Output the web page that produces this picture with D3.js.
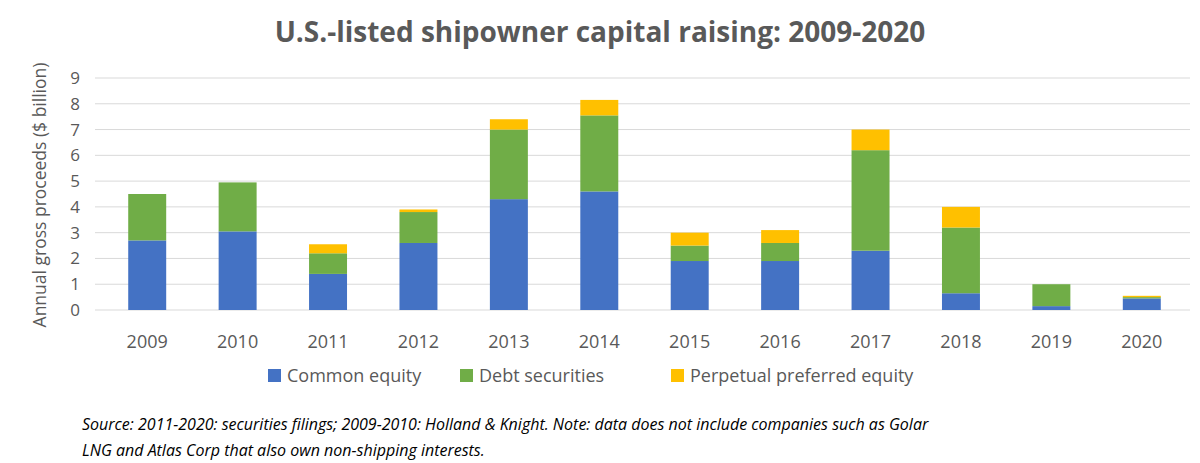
<!DOCTYPE html><html><head><meta charset="utf-8"><script src="https://cdn.jsdelivr.net/npm/d3@7"></script>
<style>body{margin:0;background:#fff}text{font-family:"Open Sans",sans-serif}</style></head><body>
<svg id="c" width="1200" height="463"></svg>
<script>
const years=["2009","2010","2011","2012","2013","2014","2015","2016","2017","2018","2019","2020"];
const common=[2.7,3.05,1.4,2.6,4.3,4.6,1.9,1.9,2.3,0.65,0.15,0.45];
const debt=[1.8,1.9,0.8,1.2,2.7,2.95,0.6,0.7,3.9,2.55,0.85,0.05];
const perpetual=[0,0,0.35,0.1,0.4,0.6,0.5,0.5,0.8,0.8,0,0.05];
const seriesNames=["Common equity","Debt securities","Perpetual preferred equity"];
const colors=["#4472C4","#70AD47","#FFC000"];
const yTicks=[0,1,2,3,4,5,6,7,8,9];
const svg=d3.select("#c");
const x=d3.scaleBand().domain(years).range([102,1187]).paddingInner(0.58).paddingOuter(0.29);
const y=d3.scaleLinear().domain([0,9]).range([310,78]);
svg.append("g").selectAll("line").data(yTicks).join("line").attr("x1",95).attr("x2",1190)
 .attr("y1",d=>y(d)).attr("y2",d=>y(d)).attr("stroke","#d9d9d9");
svg.append("g").selectAll("text").data(yTicks).join("text").attr("x",80).attr("y",d=>y(d)+6)
 .attr("text-anchor","end").attr("font-size",17).attr("fill","#595959").text(d=>d);
const data=years.map((yr,i)=>({yr,c:common[i],d:debt[i],p:perpetual[i]}));
const stack=d3.stack().keys(["c","d","p"])(data);
stack.forEach((s,k)=>svg.append("g").attr("fill",colors[k]).selectAll("rect").data(s).join("rect")
 .attr("x",d=>x(d.data.yr)).attr("width",x.bandwidth()).attr("y",d=>y(d[1])).attr("height",d=>y(d[0])-y(d[1])));
svg.append("g").selectAll("text").data(years).join("text").attr("x",d=>x(d)+x.bandwidth()/2).attr("y",348)
 .attr("text-anchor","middle").attr("font-size",18).attr("fill","#595959").text(d=>d);
svg.append("text").attr("x",600).attr("y",42).attr("text-anchor","middle").attr("font-size",28).attr("font-weight","bold").attr("fill","#595959").text("U.S.-listed shipowner capital raising: 2009-2020");
svg.append("text").attr("transform","translate(46,195) rotate(-90)").attr("text-anchor","middle").attr("font-size",17.5).attr("fill","#595959").text("Annual gross proceeds ($ billion)");
const lx=[268,460,671];
seriesNames.forEach((n,i)=>{svg.append("rect").attr("x",lx[i]).attr("y",369).attr("width",13).attr("height",13).attr("fill",colors[i]);
 svg.append("text").attr("x",lx[i]+19).attr("y",382).attr("font-size",18).attr("fill","#595959").text(n);});
svg.append("text").attr("x",82).attr("y",430).attr("font-size",16).attr("font-style","italic").attr("fill","#000").text("Source: 2011-2020: securities filings; 2009-2010: Holland & Knight. Note: data does not include companies such as Golar");
svg.append("text").attr("x",82).attr("y",456).attr("font-size",16).attr("font-style","italic").attr("fill","#000").text("LNG and Atlas Corp that also own non-shipping interests.");
</script></body></html>
